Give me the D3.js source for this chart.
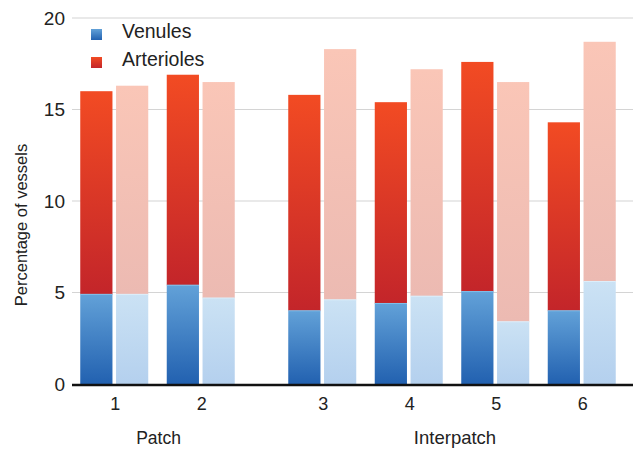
<!DOCTYPE html>
<html>
<head>
<meta charset="UTF-8">
<title>Vessels</title>
<script src="https://cdn.jsdelivr.net/npm/d3@7"></script>
<style>
body { margin: 0; background: #fff; }
text { font-family: "Liberation Sans", Arial, sans-serif; fill: #222; }
</style>
</head>
<body>
<div id="vis"></div>
<script>

// data
var patchCats = ["1", "2"];
var interCats = ["3", "4", "5", "6"];
var conditions = ["dark", "light"];
// venules / arterioles (top of stack) per category, [dark, light]
var venules = {
  "1": [4.9, 4.9], "2": [5.4, 4.7], "3": [4.0, 4.6],
  "4": [4.4, 4.8], "5": [5.05, 3.4], "6": [4.0, 5.6]
};
var totals = {
  "1": [16.0, 16.3], "2": [16.9, 16.5], "3": [15.8, 18.3],
  "4": [15.4, 17.2], "5": [17.6, 16.5], "6": [14.3, 18.7]
};
var yTicks = [0, 5, 10, 15, 20];
var legendItems = ["Venules", "Arterioles"];

var width = 639, height = 449;

var svg = d3.select("#vis").append("svg")
  .attr("width", width)
  .attr("height", height);

var defs = svg.append("defs");
function grad(id, top, bottom) {
  var g = defs.append("linearGradient").attr("id", id)
    .attr("x1", 0).attr("y1", 0).attr("x2", 0).attr("y2", 1);
  g.append("stop").attr("offset", "0%").attr("stop-color", top);
  g.append("stop").attr("offset", "100%").attr("stop-color", bottom);
}
grad("venDark", "#62a1d8", "#2261b0");
grad("artDark", "#f24b23", "#c3252a");
grad("venLight", "#cbe2f4", "#b4d0ee");
grad("artLight", "#fac6b7", "#ecbab2");

var y = d3.scaleLinear().domain([0, 20]).range([384, 18]);

// two groups, same step
var xPatch = d3.scaleBand().domain(patchCats).range([71, 244]);
var xInter = d3.scaleBand().domain(interCats).range([279, 625]);
function xCat(c) {
  return patchCats.indexOf(c) >= 0 ? xPatch(c) : xInter(c);
}
var step = xPatch.bandwidth();
var x1 = d3.scaleBand().domain(conditions)
  .range([(step - 68) / 2, (step + 68) / 2]).paddingInner(0.1);

// gridlines
svg.append("g").selectAll("line")
  .data(yTicks.filter(function(d) { return d > 0; }))
  .enter().append("line")
  .attr("x1", 72).attr("x2", 633)
  .attr("y1", function(d) { return y(d); })
  .attr("y2", function(d) { return y(d); })
  .attr("stroke", "#d4d4d4")
  .attr("stroke-width", 1.2);

svg.append("g").selectAll("text")
  .data(yTicks)
  .enter().append("text")
  .attr("x", 65)
  .attr("y", function(d) { return y(d); })
  .attr("dy", "0.36em")
  .attr("text-anchor", "end")
  .style("font-size", "19px")
  .text(function(d) { return d; });

// bars
var allCats = patchCats.concat(interCats);
var rows = [];
allCats.forEach(function(c) {
  conditions.forEach(function(k, i) {
    rows.push({cat: c, cond: k, ven: venules[c][i], tot: totals[c][i]});
  });
});

var bars = svg.append("g").selectAll("g")
  .data(rows)
  .enter().append("g")
  .attr("transform", function(d) { return "translate(" + (xCat(d.cat) + x1(d.cond)) + ",0)"; });

bars.append("rect")
  .attr("width", x1.bandwidth())
  .attr("y", function(d) { return y(d.tot); })
  .attr("height", function(d) { return y(d.ven) - y(d.tot); })
  .attr("fill", function(d) { return d.cond == "dark" ? "url(#artDark)" : "url(#artLight)"; });

bars.append("rect")
  .attr("width", x1.bandwidth())
  .attr("y", function(d) { return y(d.ven); })
  .attr("height", function(d) { return y(0) - y(d.ven); })
  .attr("fill", function(d) { return d.cond == "dark" ? "url(#venDark)" : "url(#venLight)"; });

// thin highlight where the stacks meet
bars.append("line")
  .attr("x1", 0).attr("x2", x1.bandwidth())
  .attr("y1", function(d) { return y(d.ven); })
  .attr("y2", function(d) { return y(d.ven); })
  .attr("stroke", function(d) { return d.cond == "dark" ? "#7ec0ec" : "#ddeefa"; })
  .attr("stroke-width", 1);

// baseline
svg.append("line")
  .attr("x1", 72).attr("x2", 633)
  .attr("y1", y(0) + 1).attr("y2", y(0) + 1)
  .attr("stroke", "#111")
  .attr("stroke-width", 2.5);

// x labels
svg.append("g").selectAll("text")
  .data(allCats)
  .enter().append("text")
  .attr("x", function(d) { return xCat(d) + step / 2 + 1; })
  .attr("y", 410)
  .attr("text-anchor", "middle")
  .style("font-size", "18px")
  .text(function(d) { return d; });

svg.append("text")
  .attr("x", xPatch.range()[0] + (xPatch.range()[1] - xPatch.range()[0]) / 2 + 1)
  .attr("y", 444)
  .attr("text-anchor", "middle")
  .style("font-size", "17.5px")
  .text("Patch");

svg.append("text")
  .attr("x", xInter.range()[0] + (xInter.range()[1] - xInter.range()[0]) / 2 + 3)
  .attr("y", 444)
  .attr("text-anchor", "middle")
  .style("font-size", "18.5px")
  .text("Interpatch");

svg.append("text")
  .attr("transform", "translate(27,225) rotate(-90)")
  .attr("text-anchor", "middle")
  .style("font-size", "16.5px")
  .text("Percentage of vessels");

// legend
var legend = svg.append("g").selectAll("g")
  .data(legendItems)
  .enter().append("g")
  .attr("transform", function(d, i) { return "translate(91," + (29 + i * 28) + ")"; });

legend.append("rect")
  .attr("width", 11).attr("height", 11)
  .attr("fill", function(d, i) { return i == 0 ? "url(#venDark)" : "url(#artDark)"; });

legend.append("text")
  .attr("x", 31).attr("y", 9)
  .style("font-size", "19.5px")
  .text(function(d) { return d; });

</script>
</body>
</html>
